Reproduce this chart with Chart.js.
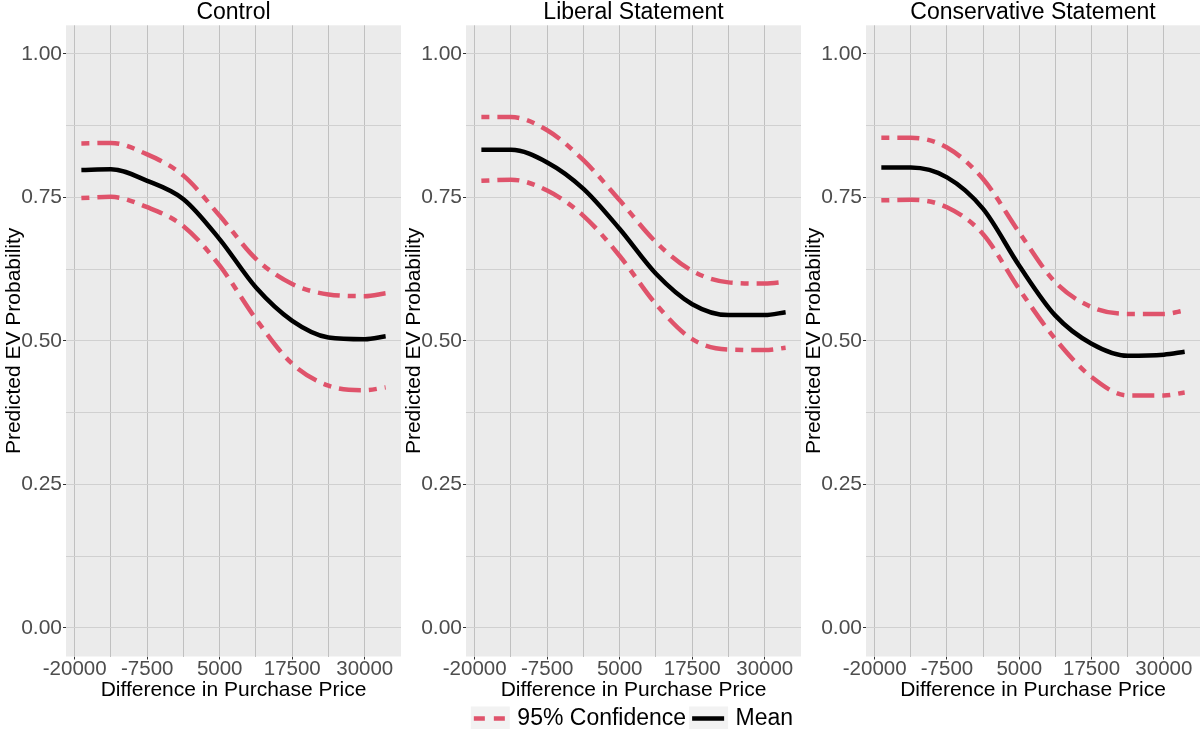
<!DOCTYPE html>
<html>
<head>
<meta charset="utf-8">
<script src="https://cdn.jsdelivr.net/npm/chart.js@4.4.0/dist/chart.umd.min.js"></script>
<style>
  html, body { margin: 0; padding: 0; background: #fff; }
  #wrap { position: relative; width: 1200px; height: 729px; overflow: hidden; }
  canvas { position: absolute; top: 0; }
</style>
</head>
<body>
<div id="wrap">
  <canvas id="c1" width="401" height="729" style="left:0px"></canvas>
  <canvas id="c2" width="401" height="729" style="left:400px"></canvas>
  <canvas id="c3" width="400" height="729" style="left:800px"></canvas>
</div>
<script>
const priceDiff = [-18850, -13750, -7500, -1250, 5000, 11250, 17500, 23750, 30000, 33600];

const meanControl  = [0.798, 0.799, 0.779, 0.747, 0.677, 0.593, 0.535, 0.506, 0.503, 0.508];
const upperControl = [0.844, 0.845, 0.825, 0.788, 0.718, 0.643, 0.599, 0.581, 0.578, 0.583];
const lowerControl = [0.749, 0.751, 0.733, 0.700, 0.631, 0.538, 0.460, 0.422, 0.414, 0.419];

const meanLiberal  = [0.833, 0.833, 0.811, 0.765, 0.695, 0.617, 0.564, 0.545, 0.545, 0.550];
const upperLiberal = [0.890, 0.890, 0.867, 0.815, 0.745, 0.672, 0.622, 0.602, 0.600, 0.603];
const lowerLiberal = [0.779, 0.781, 0.762, 0.718, 0.648, 0.564, 0.503, 0.485, 0.484, 0.488];

const meanConservative  = [0.802, 0.802, 0.785, 0.730, 0.631, 0.544, 0.495, 0.474, 0.476, 0.481];
const upperConservative = [0.854, 0.854, 0.837, 0.782, 0.689, 0.602, 0.559, 0.547, 0.547, 0.553];
const lowerConservative = [0.745, 0.746, 0.733, 0.686, 0.590, 0.503, 0.437, 0.405, 0.405, 0.410];

const panelTitles = ['Control', 'Liberal Statement', 'Conservative Statement'];
const xTicks = [-20000, -7500, 5000, 17500, 30000];
const yTicks = [0, 0.25, 0.5, 0.75, 1];
const legendLabels = ['95% Confidence', 'Mean'];

const RED = '#DF536B';
const DASH = [8, 8, 22, 8];
const FONT = "'Liberation Sans', Arial, sans-serif";
Chart.defaults.font.family = FONT;

// major + minor grid positions (minor halfway between majors)
const withMinor = (ticks) => {
  const out = [];
  ticks.forEach((v, i) => {
    out.push(v);
    if (i < ticks.length - 1) out.push((v + ticks[i + 1]) / 2);
  });
  return out;
};
const xGrid = withMinor(xTicks);
const yGrid = withMinor(yTicks);

const pts = (ys) => priceDiff.map((x, i) => ({ x: x, y: ys[i] }));

const panelBg = {
  id: 'panelBg',
  beforeDraw(chart) {
    const { ctx, chartArea: a } = chart;
    ctx.save();
    ctx.fillStyle = '#EBEBEB';
    ctx.fillRect(a.left, a.top, a.right - a.left, a.bottom - a.top);
    // grey squares behind legend keys
    if (chart.options.plugins.legend.display && chart.legend.legendHitBoxes) {
      chart.legend.legendHitBoxes.forEach(b => {
        ctx.fillStyle = '#F2F2F2';
        ctx.fillRect(b.left - 3, b.top + b.height / 2 - 12, 39, 24);
      });
    }
    ctx.restore();
  }
};

function makePanel(id, title, mean, upper, lower, showLegend, padBottom) {
  const line = { pointRadius: 0, borderCapStyle: 'butt', cubicInterpolationMode: 'monotone', fill: false };
  return new Chart(document.getElementById(id), {
    type: 'line',
    data: {
      datasets: [
        { ...line, label: 'Mean', data: pts(mean), borderColor: '#000', borderWidth: 4.5 },
        { ...line, label: 'Upper', data: pts(upper), borderColor: RED, borderWidth: 4.5, borderDash: DASH },
        { ...line, label: 'Lower', data: pts(lower), borderColor: RED, borderWidth: 4.5, borderDash: DASH },
      ]
    },
    options: {
      responsive: false, animation: false,
      layout: { padding: { top: 0, right: 0, bottom: padBottom, left: 0 } },
      plugins: {
        tooltip: { enabled: false },
        title: {
          display: true, text: title, fullSize: false, color: '#000',
          font: { size: 23, weight: 'normal', lineHeight: 1.1 }, padding: { top: 0, bottom: 0 }
        },
        legend: {
          display: showLegend, position: 'bottom', fullSize: false, maxHeight: 28,
          labels: {
            usePointStyle: true, pointStyleWidth: 32, boxHeight: 22, padding: 6,
            color: '#000', font: { size: 23, lineHeight: 1 },
            generateLabels: () => [
              { text: legendLabels[0], pointStyle: 'line', strokeStyle: RED, fillStyle: RED, lineWidth: 4.5, lineDash: [11, 9], hidden: false, datasetIndex: 1 },
              { text: legendLabels[1], pointStyle: 'line', strokeStyle: '#000', fillStyle: '#000', lineWidth: 4.5, lineDash: [], hidden: false, datasetIndex: 0 },
            ]
          }
        }
      },
      scales: {
        x: {
          type: 'linear', min: -21500, max: 36250,
          afterBuildTicks: s => { s.ticks = xGrid.map(v => ({ value: v })); },
          ticks: {
            autoSkip: false, maxRotation: 0, padding: 0, color: '#4d4d4d', font: { size: 20.5, lineHeight: 1 },
            callback: v => xTicks.includes(v) ? String(v) : ''
          },
          grid: {
            color: '#c0c0c0', lineWidth: 1, tickLength: 3,
            tickColor: c => (c.tick && xTicks.includes(c.tick.value)) ? '#333' : 'rgba(0,0,0,0)'
          },
          border: { display: false },
          title: { display: true, text: 'Difference in Purchase Price', color: '#000', font: { size: 21, lineHeight: 1 }, padding: { top: 0, bottom: 0 } }
        },
        y: {
          min: -0.05, max: 1.05,
          afterBuildTicks: s => { s.ticks = yGrid.map(v => ({ value: v })); },
          afterFit: s => { s.width = 66; },
          ticks: {
            autoSkip: false, padding: 1, color: '#4d4d4d', font: { size: 21 },
            callback: v => yTicks.includes(v) ? v.toFixed(2) : ''
          },
          grid: {
            color: '#d0d0d0', lineWidth: 1, tickLength: 3,
            tickColor: c => (c.tick && yTicks.includes(c.tick.value)) ? '#333' : 'rgba(0,0,0,0)'
          },
          border: { display: false },
          title: { display: true, text: 'Predicted EV Probability', color: '#000', font: { size: 21, lineHeight: 1 }, padding: { top: 4, bottom: 0 } }
        }
      }
    },
    plugins: [panelBg]
  });
}

const mid = makePanel('c2', panelTitles[1], meanLiberal, upperLiberal, lowerLiberal, true, 0);
const legendH = mid.legend.height;
makePanel('c1', panelTitles[0], meanControl, upperControl, lowerControl, false, legendH);
makePanel('c3', panelTitles[2], meanConservative, upperConservative, lowerConservative, false, legendH);
</script>
</body>
</html>
